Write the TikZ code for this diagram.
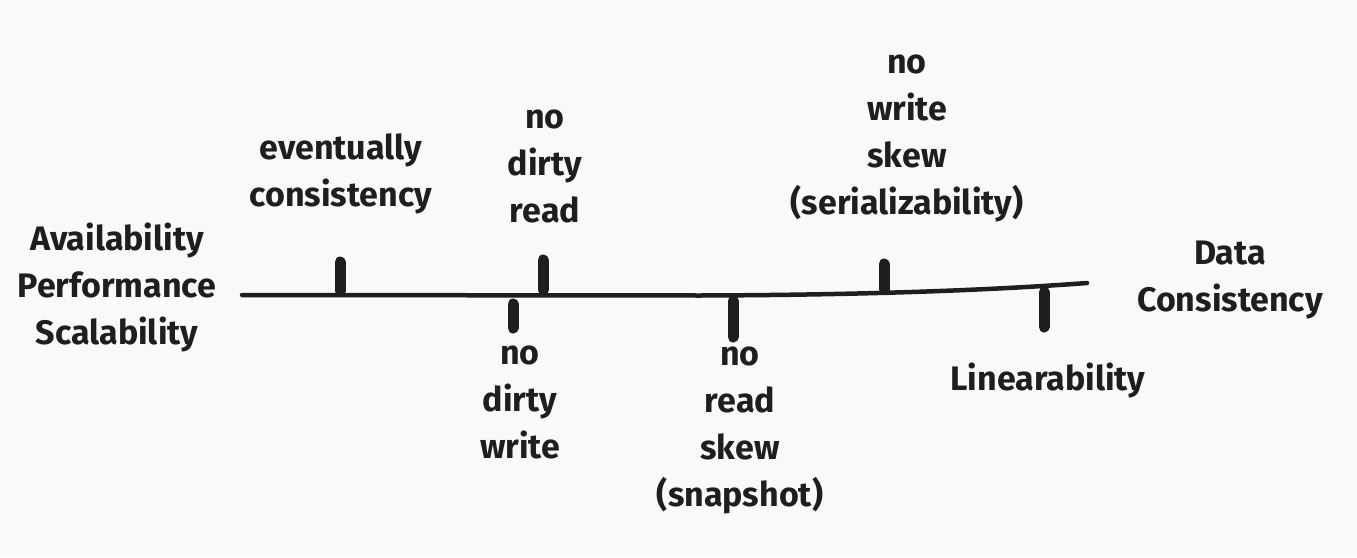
\documentclass[tikz,border=0pt]{standalone}
\usepackage{fontspec}
\setmainfont{Fira Sans}
\definecolor{bg}{RGB}{248,249,250}
\definecolor{ink}{RGB}{30,30,30}
\begin{document}
\begin{tikzpicture}[x=1pt,y=-1pt,
  lbl/.style={text=ink,align=center,inner sep=0pt,font=\fontsize{34}{47}\selectfont\bfseries},
  axis/.style={draw=ink,line width=4.5pt,line cap=round},
  tick/.style={draw=ink,line width=11pt,line cap=round}]
\fill[bg] (0,0) rectangle (1357,557);
\useasboundingbox (0,0) rectangle (1357,557);
% axis
\coordinate (a0) at (242,295);
\coordinate (a1) at (1087,283);
\draw[axis] (a0) -- (700,295.5) .. controls (850,295) and (980,291) .. (a1);
% ticks up
\coordinate (u1a) at (340,262); \coordinate (u1b) at (340,291);
\coordinate (u2a) at (543,260); \coordinate (u2b) at (543,290);
\coordinate (u3a) at (884,264); \coordinate (u3b) at (884,289);
\draw[tick] (u1a) -- (u1b);
\draw[tick] (u2a) -- (u2b);
\draw[tick] (u3a) -- (u3b);
% ticks down
\coordinate (d1a) at (513,304); \coordinate (d1b) at (513,328);
\coordinate (d2a) at (733,301); \coordinate (d2b) at (733,337);
\coordinate (d3a) at (1044,292); \coordinate (d3b) at (1044,327);
\draw[tick] (d1a) -- (d1b);
\draw[tick] (d2a) -- (d2b);
\draw[tick] (d3a) -- (d3b);
% labels
\node[lbl] (left) at (117,287) {Availability\\Performance\\Scalability};
\node[lbl] (ev) at (341,173.5) {eventually\\consistency};
\node[lbl] (ndr) at (545,166) {no\\dirty\\read};
\node[lbl] (nws) at (907,138) {no\\write\\skew\\(serializability)};
\node[lbl] (dc) at (1230,280) {Data\\Consistency};
\node[lbl] (ndw) at (520,402) {no\\dirty\\write};
\node[lbl] (nrs) at (740,430) {no\\read\\skew\\(snapshot)};
\node[lbl] (lin) at (1048,380) {Linearability};
\end{tikzpicture}
\end{document}
